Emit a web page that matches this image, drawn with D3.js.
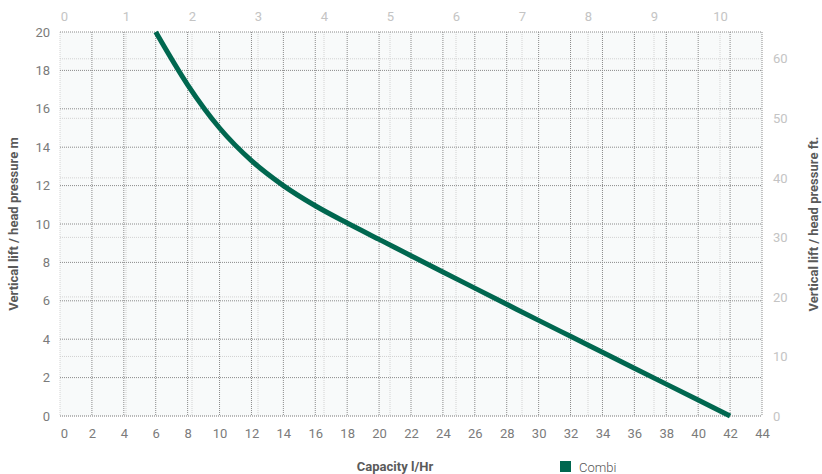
<!DOCTYPE html>
<html>
<head>
<meta charset="utf-8">
<script src="https://cdn.jsdelivr.net/npm/d3@7"></script>
<style>
  body { margin: 0; background: #fff; }
  svg text { font-family: Roboto, "Noto Sans", sans-serif; }
</style>
</head>
<body>
<div id="chart"></div>
<script>
// capacity in l/Hr and head in m
const capacity = [6, 8, 10, 12, 14, 16, 18, 20, 22, 24, 26, 28, 30, 32, 34, 36, 38, 40, 42];
const headM = [20, 17.25, 15.0, 13.3, 12.0, 10.95, 10.05, 9.2, 8.35, 7.5, 6.66, 5.82, 4.98, 4.15, 3.32, 2.49, 1.66, 0.83, 0];

const bottomTicks = d3.range(0, 45, 2);
const leftTicks = d3.range(0, 21, 2);
const topTicks = d3.range(0, 11, 1);
const rightTicks = [0, 10, 20, 30, 40, 50, 60];

const seriesName = 'Combi';
const lineColor = '#00674f';

let showChart = (elementID) => {
    const width = 822, height = 474;
    const margin = { top: 32, right: 60, bottom: 58, left: 60 };

    const svg = d3.select('#' + elementID)
        .append('svg')
        .attr('width', width)
        .attr('height', height);

    const x = d3.scaleLinear().domain([0, 44]).range([margin.left, width - margin.right]);
    const y = d3.scaleLinear().domain([0, 20]).range([height - margin.bottom, margin.top]);
    // secondary axes: gal/Hr on top, ft on the right
    const xTop = d3.scaleLinear().domain([0, 10.636]).range([margin.left, width - margin.right]);
    const yRight = d3.scaleLinear().domain([0, 64.5]).range([height - margin.bottom, margin.top]);

    // plot background
    svg.append('rect')
        .attr('x', x(0)).attr('y', y(20))
        .attr('width', x(44) - x(0)).attr('height', y(0) - y(20))
        .attr('fill', '#f8fafa');

    // minor grid (secondary axes)
    const minor = svg.append('g')
        .attr('stroke', '#d2d2d2').attr('stroke-dasharray', '1,1');
    minor.selectAll('.vmin').data(topTicks).join('line')
        .attr('x1', d => xTop(d)).attr('x2', d => xTop(d))
        .attr('y1', y(20)).attr('y2', y(0));
    minor.selectAll('.hmin').data(rightTicks).join('line')
        .attr('y1', d => yRight(d)).attr('y2', d => yRight(d))
        .attr('x1', x(0)).attr('x2', x(44));

    // major grid
    const major = svg.append('g')
        .attr('stroke', '#8a8a8a').attr('stroke-dasharray', '1,1');
    major.selectAll('.vmaj').data(bottomTicks.filter(d => d > 0)).join('line')
        .attr('x1', d => x(d)).attr('x2', d => x(d))
        .attr('y1', y(20)).attr('y2', y(0));
    major.selectAll('.hmaj').data(leftTicks).join('line')
        .attr('y1', d => y(d)).attr('y2', d => y(d))
        .attr('x1', x(0)).attr('x2', x(44));

    // axes (labels only, no domain lines)
    function styleAxis(g, color) {
        g.select('.domain').remove();
        g.selectAll('.tick line').remove();
        g.selectAll('.tick text')
            .attr('fill', color)
            .attr('font-size', '13px');
    }

    svg.append('g')
        .attr('transform', `translate(0,${y(0)})`)
        .call(d3.axisBottom(x).tickValues(bottomTicks).tickSize(0).tickPadding(13))
        .call(g => styleAxis(g, '#7b7b7b'))
        .call(g => g.selectAll('.tick text').filter(d => d === 0).attr('dx', '4px'));

    svg.append('g')
        .attr('transform', `translate(${x(0)},0)`)
        .call(d3.axisLeft(y).tickValues(leftTicks).tickSize(0).tickPadding(10))
        .call(g => styleAxis(g, '#7b7b7b'));

    svg.append('g')
        .attr('transform', `translate(0,${y(20)})`)
        .call(d3.axisTop(xTop).tickValues(topTicks).tickSize(0).tickPadding(11))
        .call(g => styleAxis(g, '#c4c4c4'))
        .call(g => g.selectAll('.tick text').filter(d => d === 0).attr('dx', '4px'));

    svg.append('g')
        .attr('transform', `translate(${x(44)},0)`)
        .call(d3.axisRight(yRight).tickValues(rightTicks).tickSize(0).tickPadding(11))
        .call(g => styleAxis(g, '#c4c4c4'));

    // the curve
    const line = d3.line()
        .x((d, i) => x(capacity[i]))
        .y(d => y(d))
        .curve(d3.curveMonotoneX);

    svg.append('path')
        .datum(headM)
        .attr('d', line)
        .attr('fill', 'none')
        .attr('stroke', lineColor)
        .attr('stroke-width', 5);

    // axis titles
    const midY = (y(0) + y(20)) / 2;
    svg.append('text')
        .attr('transform', `translate(18,${midY}) rotate(-90)`)
        .attr('text-anchor', 'middle')
        .attr('font-size', '13px').attr('font-weight', 'bold')
        .attr('fill', '#5a5a5a')
        .text('Vertical lift / head pressure m');

    svg.append('text')
        .attr('transform', `translate(818,${midY}) rotate(-90)`)
        .attr('text-anchor', 'middle')
        .attr('font-size', '13px').attr('font-weight', 'bold')
        .attr('fill', '#5a5a5a')
        .text('Vertical lift / head pressure ft.');

    svg.append('text')
        .attr('x', 395).attr('y', 471)
        .attr('text-anchor', 'middle')
        .attr('font-size', '13px').attr('font-weight', 'bold')
        .attr('fill', '#5a5a5a')
        .text('Capacity l/Hr');

    // legend
    const legend = svg.append('g').attr('transform', 'translate(560,461)');
    legend.append('rect')
        .attr('width', 11).attr('height', 11)
        .attr('fill', lineColor);
    legend.append('text')
        .attr('x', 19).attr('y', 10.5)
        .attr('font-size', '13px').attr('font-weight', 300)
        .attr('fill', '#555')
        .text(seriesName);
}

showChart('chart');
</script>
</body>
</html>
